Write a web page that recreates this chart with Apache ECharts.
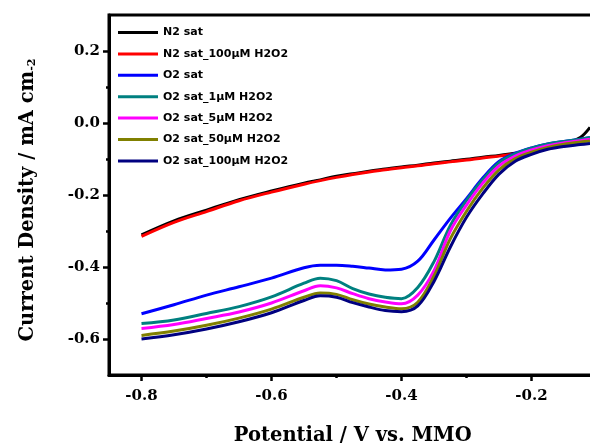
<!DOCTYPE html>
<html>
<head>
<meta charset="utf-8">
<script src="https://cdn.jsdelivr.net/npm/echarts@6/dist/echarts.min.js"></script>
<style>
  html, body { margin: 0; padding: 0; background: #fff; }
  #chart { width: 590px; height: 445px; }
</style>
</head>
<body>
<div id="chart"></div>
<script>
// potential (V vs. MMO)
var potential = [-0.8, -0.75, -0.7, -0.65, -0.6, -0.55, -0.525, -0.5, -0.475, -0.45, -0.425, -0.4,
                 -0.375, -0.35, -0.325, -0.3, -0.275, -0.25, -0.225, -0.2, -0.175, -0.15, -0.125, -0.11];

// current density (mA cm-2)
var n2Sat      = [-0.311, -0.272, -0.242, -0.213, -0.189, -0.167, -0.158, -0.148, -0.141, -0.134, -0.128, -0.122,
                  -0.117, -0.111, -0.106, -0.101, -0.095, -0.090, -0.084, -0.078, -0.069, -0.058, -0.040, -0.012];
var n2Sat100   = [-0.315, -0.276, -0.246, -0.216, -0.192, -0.170, -0.160, -0.151, -0.143, -0.136, -0.130, -0.124,
                  -0.119, -0.113, -0.108, -0.103, -0.097, -0.092, -0.086, -0.080, -0.071, -0.062, -0.052, -0.045];
var o2Sat      = [-0.530, -0.505, -0.478, -0.455, -0.431, -0.402, -0.395, -0.395, -0.398, -0.403, -0.408, -0.406,
                  -0.384, -0.325, -0.265, -0.210, -0.153, -0.107, -0.084, -0.069, -0.058, -0.051, -0.045, -0.041];
var o2Sat1     = [-0.557, -0.547, -0.529, -0.510, -0.483, -0.445, -0.431, -0.438, -0.460, -0.475, -0.484, -0.488,
                  -0.457, -0.385, -0.285, -0.215, -0.157, -0.110, -0.086, -0.070, -0.058, -0.051, -0.045, -0.040];
var o2Sat5     = [-0.571, -0.560, -0.543, -0.525, -0.500, -0.466, -0.452, -0.458, -0.474, -0.488, -0.497, -0.502,
                  -0.478, -0.410, -0.300, -0.228, -0.167, -0.119, -0.092, -0.075, -0.063, -0.055, -0.049, -0.045];
var o2Sat50    = [-0.590, -0.578, -0.562, -0.542, -0.517, -0.484, -0.472, -0.476, -0.491, -0.503, -0.511, -0.516,
                  -0.498, -0.425, -0.322, -0.245, -0.181, -0.130, -0.099, -0.081, -0.068, -0.059, -0.053, -0.050];
var o2Sat100   = [-0.600, -0.588, -0.572, -0.552, -0.527, -0.493, -0.480, -0.484, -0.499, -0.511, -0.521, -0.524,
                  -0.508, -0.440, -0.345, -0.262, -0.197, -0.142, -0.106, -0.087, -0.073, -0.065, -0.060, -0.057];

var seriesNames  = ['N2 sat', 'N2 sat_100µM H2O2', 'O2 sat', 'O2 sat_1µM H2O2',
                    'O2 sat_5µM H2O2', 'O2 sat_50µM H2O2', 'O2 sat_100µM H2O2'];
var seriesValues = [n2Sat, n2Sat100, o2Sat, o2Sat1, o2Sat5, o2Sat50, o2Sat100];
var seriesColors = ['#000000', '#ff0000', '#0000ff', '#008080', '#ff00ff', '#808000', '#000080'];

var myChart = echarts.init(document.getElementById('chart'));

var serif = 'DejaVu Serif';
var series = seriesNames.map(function (name, i) {
    return {
        name: name,
        type: 'line',
        xAxisIndex: 0,
        yAxisIndex: 0,
        smooth: 0.35,
        showSymbol: false,
        symbol: 'none',
        animation: false,
        lineStyle: { color: seriesColors[i], width: 3 },
        itemStyle: { color: seriesColors[i] },
        data: potential.map(function (v, k) { return [v, seriesValues[i][k]]; })
    };
});

var option = {
    backgroundColor: '#fff',
    animation: false,
    legend: {
        orient: 'vertical',
        left: 118,
        top: 27,
        padding: 0,
        itemWidth: 40,
        itemHeight: 3,
        itemGap: 10.4,
        icon: 'rect',
        data: seriesNames,
        textStyle: { fontFamily: 'DejaVu Sans', fontWeight: 'bold', fontSize: 11, color: '#000' }
    },
    grid: [
        // data area (runs past the right edge of the picture)
        { left: 109, top: 15, width: 487.5, height: 360, show: true, borderColor: '#000', borderWidth: 3,
          outerBoundsMode: 'none', containLabel: false },
        // tick / label frame
        { left: 141.5, top: 51, width: 390, height: 288, outerBoundsMode: 'none', containLabel: false }
    ],
    xAxis: [
        {
            gridIndex: 0, type: 'value', min: -0.85, max: -0.1,
            axisLine: { show: true, onZero: false, lineStyle: { color: '#000', width: 3 } },
            axisTick: { show: false }, axisLabel: { show: false }, splitLine: { show: false },
            name: 'Potential / V vs. MMO',
            nameLocation: 'middle',
            nameGap: 51,
            nameTextStyle: { fontFamily: serif, fontWeight: 'bold', fontSize: 19.5, color: '#000' }
        },
        {
            gridIndex: 1, type: 'value', min: -0.8, max: -0.2, interval: 0.2, offset: 36,
            axisLine: { show: false, onZero: false },
            axisTick: { show: true, length: 6, lineStyle: { color: '#000', width: 2.5 } },
            minorTick: { show: true, splitNumber: 2, length: 3, lineStyle: { color: '#000', width: 2.5 } },
            splitLine: { show: false },
            axisLabel: {
                margin: 14, fontFamily: serif, fontWeight: 'bold', fontSize: 15, color: '#000',
                formatter: function (v) { return v.toFixed(1); }
            }
        }
    ],
    yAxis: [
        {
            gridIndex: 0, type: 'value', min: -0.7, max: 0.3,
            axisLine: { show: true, onZero: false, lineStyle: { color: '#000', width: 3 } },
            axisTick: { show: false }, axisLabel: { show: false }, splitLine: { show: false },
            name: 'Current Density / mA cm{sup|-2}',
            nameLocation: 'middle',
            nameGap: 71,
            nameTextStyle: {
                fontFamily: serif, fontWeight: 'bold', fontSize: 19.5, color: '#000',
                padding: [0, 10, 0, 0],
                rich: { sup: { fontFamily: serif, fontWeight: 'bold', fontSize: 11, color: '#000', verticalAlign: 'bottom' } }
            }
        },
        {
            gridIndex: 1, type: 'value', min: -0.6, max: 0.2, interval: 0.2, offset: 32.5,
            axisLine: { show: false, onZero: false },
            axisTick: { show: true, length: 6, lineStyle: { color: '#000', width: 2.5 } },
            minorTick: { show: true, splitNumber: 2, length: 3, lineStyle: { color: '#000', width: 2.5 } },
            splitLine: { show: false },
            axisLabel: {
                margin: 9, fontFamily: serif, fontWeight: 'bold', fontSize: 15, color: '#000',
                formatter: function (v) { return v.toFixed(1); }
            }
        }
    ],
    series: series
};

myChart.setOption(option);
window.addEventListener('resize', function () { myChart.resize(); });
</script>
</body>
</html>
